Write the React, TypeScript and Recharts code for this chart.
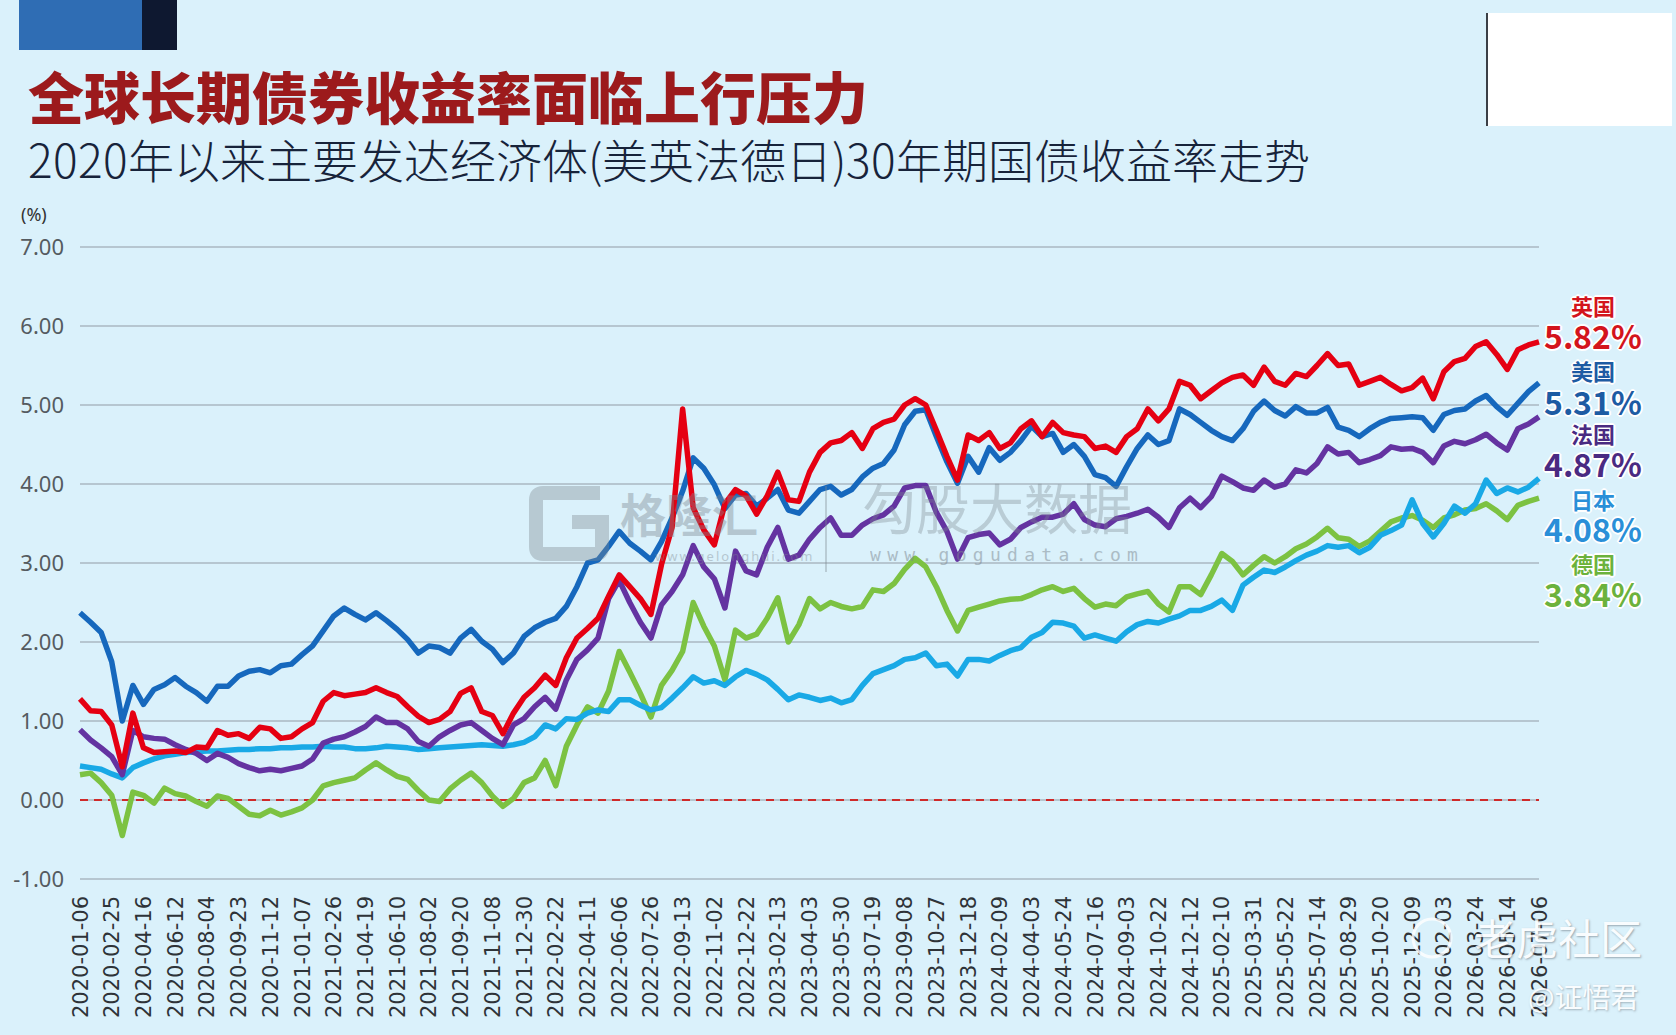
import React from 'react';
import { LineChart, Line, XAxis, YAxis, CartesianGrid, ReferenceLine } from 'recharts';

const tickDates = [
  '2020-01-06', '2020-02-25', '2020-04-16', '2020-06-12', '2020-08-04', '2020-09-23', '2020-11-12',
  '2021-01-07', '2021-02-26', '2021-04-19', '2021-06-10', '2021-08-02', '2021-09-20', '2021-11-08', '2021-12-30',
  '2022-02-22', '2022-04-11', '2022-06-06', '2022-07-26', '2022-09-13', '2022-11-02', '2022-12-22',
  '2023-02-13', '2023-04-03', '2023-05-30', '2023-07-19', '2023-09-08', '2023-10-27', '2023-12-18',
  '2024-02-09', '2024-04-03', '2024-05-24', '2024-07-16', '2024-09-03', '2024-10-22', '2024-12-12',
  '2025-02-10', '2025-03-31', '2025-05-22', '2025-07-14', '2025-08-29', '2025-10-20', '2025-12-09',
  '2026-02-03', '2026-03-24', '2026-05-14', '2026-07-06',
];

// 3 observations per labelled tick interval
const STEP = 3;

const ukYield = [
  1.28, 1.13, 1.12, 0.95, 0.42, 1.10, 0.66, 0.60, 0.61, 0.62, 0.60, 0.67,
  0.66, 0.88, 0.82, 0.84, 0.78, 0.92, 0.90, 0.78, 0.80, 0.90, 0.98, 1.25,
  1.36, 1.32, 1.34, 1.36, 1.42, 1.36, 1.31, 1.18, 1.06, 0.98, 1.02, 1.12,
  1.35, 1.42, 1.12, 1.07, 0.84, 1.10, 1.30, 1.42, 1.58, 1.45, 1.80, 2.05,
  2.17, 2.30, 2.58, 2.85, 2.70, 2.55, 2.35, 2.98, 3.45, 4.95, 3.70, 3.42,
  3.23, 3.75, 3.93, 3.85, 3.62, 3.85, 4.15, 3.80, 3.78, 4.15, 4.40, 4.52,
  4.55, 4.65, 4.45, 4.70, 4.78, 4.82, 5.00, 5.08, 5.00, 4.68, 4.35, 4.05,
  4.62, 4.55, 4.65, 4.45, 4.52, 4.70, 4.80, 4.60, 4.78, 4.65, 4.62, 4.60,
  4.45, 4.48, 4.40, 4.60, 4.70, 4.95, 4.80, 4.95, 5.30, 5.25, 5.08, 5.18,
  5.28, 5.35, 5.38, 5.25, 5.48, 5.30, 5.25, 5.40, 5.36, 5.50, 5.65, 5.50,
  5.52, 5.25, 5.30, 5.35, 5.26, 5.18, 5.22, 5.34, 5.08, 5.42, 5.55, 5.59,
  5.74, 5.80, 5.64, 5.45, 5.70, 5.76, 5.80,
];

const usYield = [
  2.37, 2.25, 2.12, 1.75, 1.00, 1.45, 1.21, 1.40, 1.46, 1.55, 1.44, 1.36,
  1.25, 1.44, 1.44, 1.57, 1.63, 1.65, 1.61, 1.70, 1.72, 1.84, 1.95, 2.14,
  2.33, 2.43, 2.35, 2.28, 2.37, 2.27, 2.16, 2.03, 1.86, 1.95, 1.93, 1.86,
  2.05, 2.16, 2.01, 1.91, 1.74, 1.86, 2.07, 2.18, 2.25, 2.30, 2.45, 2.70,
  3.00, 3.04, 3.21, 3.40, 3.25, 3.15, 3.04, 3.27, 3.57, 3.91, 4.33, 4.20,
  3.99, 3.69, 3.86, 3.88, 3.72, 3.82, 3.93, 3.67, 3.63, 3.78, 3.93, 3.97,
  3.86, 3.93, 4.09, 4.20, 4.26, 4.43, 4.75, 4.92, 4.94, 4.60, 4.28, 4.01,
  4.35, 4.15, 4.46, 4.30, 4.40, 4.55, 4.73, 4.60, 4.64, 4.40, 4.50, 4.35,
  4.12, 4.08, 3.97, 4.22, 4.45, 4.62, 4.50, 4.55, 4.95, 4.88, 4.78, 4.68,
  4.60, 4.55, 4.70, 4.92, 5.05, 4.93, 4.86, 4.98, 4.90, 4.90, 4.97, 4.72,
  4.68, 4.60, 4.70, 4.78, 4.83, 4.84, 4.85, 4.84, 4.68, 4.88, 4.93, 4.95,
  5.05, 5.12, 4.98, 4.87, 5.02, 5.17, 5.28,
];

const frYield = [
  0.89, 0.76, 0.66, 0.55, 0.32, 0.88, 0.80, 0.78, 0.77, 0.70, 0.64, 0.59,
  0.50, 0.59, 0.54, 0.46, 0.41, 0.37, 0.39, 0.37, 0.40, 0.43, 0.52, 0.72,
  0.77, 0.80, 0.86, 0.93, 1.05, 0.98, 0.98, 0.90, 0.74, 0.68, 0.80, 0.88,
  0.95, 0.98, 0.88, 0.78, 0.70, 0.95, 1.03, 1.18, 1.30, 1.15, 1.52, 1.78,
  1.90, 2.05, 2.55, 2.78, 2.50, 2.25, 2.05, 2.47, 2.64, 2.85, 3.22, 2.95,
  2.80, 2.43, 3.15, 2.90, 2.85, 3.20, 3.45, 3.05, 3.10, 3.30, 3.45, 3.57,
  3.35, 3.35, 3.48, 3.56, 3.61, 3.72, 3.95, 3.98, 3.98, 3.64, 3.40, 3.05,
  3.32, 3.36, 3.38, 3.23, 3.30, 3.45, 3.52, 3.58, 3.58, 3.62, 3.75, 3.55,
  3.48, 3.46, 3.56, 3.59, 3.63, 3.68, 3.58, 3.45, 3.70, 3.82, 3.70, 3.84,
  4.10, 4.03, 3.95, 3.92, 4.05, 3.96, 4.00, 4.18, 4.14, 4.26, 4.47, 4.38,
  4.40, 4.27, 4.31, 4.36, 4.47, 4.44, 4.45, 4.40, 4.27, 4.48, 4.54, 4.51,
  4.56, 4.63, 4.52, 4.43, 4.70, 4.76, 4.85,
];

const jpYield = [
  0.43, 0.41, 0.39, 0.33, 0.28, 0.41, 0.47, 0.52, 0.56, 0.58, 0.60, 0.61,
  0.62, 0.62, 0.63, 0.64, 0.64, 0.65, 0.65, 0.66, 0.66, 0.67, 0.67, 0.68,
  0.67, 0.67, 0.65, 0.65, 0.66, 0.68, 0.67, 0.66, 0.64, 0.65, 0.66, 0.67,
  0.68, 0.69, 0.70, 0.69, 0.68, 0.70, 0.73, 0.80, 0.95, 0.90, 1.03, 1.02,
  1.10, 1.14, 1.12, 1.27, 1.27, 1.20, 1.14, 1.17, 1.29, 1.42, 1.56, 1.48,
  1.51, 1.45, 1.56, 1.64, 1.59, 1.52, 1.40, 1.27, 1.33, 1.30, 1.26, 1.29,
  1.23, 1.27, 1.45, 1.60, 1.65, 1.70, 1.78, 1.80, 1.86, 1.70, 1.72, 1.57,
  1.78, 1.78, 1.76, 1.83, 1.89, 1.93, 2.06, 2.12, 2.25, 2.24, 2.20, 2.05,
  2.09, 2.05, 2.01, 2.13, 2.22, 2.26, 2.24, 2.29, 2.33, 2.40, 2.40, 2.45,
  2.53, 2.40, 2.72, 2.82, 2.91, 2.88, 2.95, 3.03, 3.10, 3.15, 3.22, 3.20,
  3.22, 3.13, 3.20, 3.35, 3.41, 3.48, 3.80, 3.50, 3.33, 3.50, 3.72, 3.63,
  3.75, 4.05, 3.88, 3.95, 3.90, 3.96, 4.07,
];

const deYield = [
  0.32, 0.34, 0.22, 0.06, -0.45, 0.10, 0.06, -0.04, 0.15, 0.08, 0.05, -0.02,
  -0.08, 0.05, 0.02, -0.08, -0.18, -0.20, -0.13, -0.19, -0.15, -0.10, 0.00, 0.18,
  0.22, 0.25, 0.28, 0.38, 0.47, 0.38, 0.30, 0.26, 0.12, 0.00, -0.02, 0.14,
  0.25, 0.34, 0.22, 0.05, -0.08, 0.02, 0.22, 0.28, 0.50, 0.18, 0.68, 0.95,
  1.18, 1.10, 1.38, 1.88, 1.62, 1.35, 1.05, 1.45, 1.64, 1.88, 2.50, 2.20,
  1.95, 1.52, 2.15, 2.05, 2.10, 2.30, 2.56, 2.00, 2.22, 2.55, 2.42, 2.50,
  2.45, 2.42, 2.45, 2.66, 2.64, 2.74, 2.92, 3.06, 2.95, 2.70, 2.40, 2.14,
  2.40, 2.44, 2.48, 2.52, 2.54, 2.55, 2.60, 2.66, 2.70, 2.64, 2.68, 2.55,
  2.44, 2.48, 2.46, 2.57, 2.61, 2.64, 2.48, 2.38, 2.70, 2.70, 2.60, 2.85,
  3.12, 3.02, 2.85, 2.97, 3.08, 3.00, 3.08, 3.18, 3.24, 3.33, 3.44, 3.32,
  3.30, 3.21, 3.28, 3.40, 3.52, 3.57, 3.60, 3.54, 3.45, 3.57, 3.61, 3.67,
  3.69, 3.75, 3.66, 3.55, 3.73, 3.78, 3.82,
];

const yTicks = [-1, 0, 1, 2, 3, 4, 5, 6, 7];

const endLabels = [
  { name: '英国', value: '5.82%', color: '#d3141c', nameY: 305, valueY: 335 },
  { name: '美国', value: '5.31%', color: '#1d5ba3', nameY: 370, valueY: 401 },
  { name: '法国', value: '4.87%', color: '#4a2a82', nameY: 433, valueY: 463 },
  { name: '日本', value: '4.08%', color: '#2a8fd8', nameY: 499, valueY: 528 },
  { name: '德国', value: '3.84%', color: '#6cb23c', nameY: 563, valueY: 593 },
];

const data = ukYield.map((_, i) => ({
  idx: i,
  uk: ukYield[i],
  us: usYield[i],
  fr: frYield[i],
  jp: jpYield[i],
  de: deYield[i],
}));

const xTicks = tickDates.map((_, k) => k * STEP);

const XTick = (props: any) => {
  const { x, y, payload } = props;
  const label = tickDates[Math.round(payload.value / STEP)];
  return (
    <g transform={`translate(${x},${y + 9})`}>
      <text
        transform="rotate(-90)"
        textAnchor="end"
        dy="0.36em"
        fontSize={21}
        fill="#2e3338"
        fontFamily="DejaVu Sans, sans-serif"
      >
        {label}
      </text>
    </g>
  );
};

const halo = '0 0 3px #fff, 0 0 2px #fff, 1px 1px 0 #fff, -1px -1px 0 #fff, 1px -1px 0 #fff, -1px 1px 0 #fff, 2px 0 0 #fff, -2px 0 0 #fff, 0 2px 0 #fff, 0 -2px 0 #fff';

const fontCss = `
@font-face {
  font-family: 'EndLabelCJK';
  src: local('Noto Sans CJK SC Bold'), local('NotoSansCJKsc-Bold'), local('Noto Sans CJK SC');
  font-weight: 700;
  ascent-override: 94%;
  descent-override: 6%;
  line-gap-override: 0%;
}
@font-face {
  font-family: 'HeadCJK';
  src: local('Noto Sans CJK SC Black'), local('NotoSansCJKsc-Black'), local('Noto Sans CJK SC Bold'), local('NotoSansCJKsc-Bold');
  font-weight: 900;
  ascent-override: 94%;
  descent-override: 6%;
  line-gap-override: 0%;
}
@font-face {
  font-family: 'HeadCJK';
  src: local('Noto Sans CJK SC Light'), local('NotoSansCJKsc-Light'), local('Noto Sans CJK SC'), local('NotoSansCJKsc-Regular');
  font-weight: 300;
  ascent-override: 94%;
  descent-override: 6%;
  line-gap-override: 0%;
}
`;

const LW = 5.5;

export default function App() {
  return (
    <div
      style={{
        position: 'fixed',
        left: 0,
        top: 0,
        width: 1676,
        height: 1035,
        background: '#daf1fb',
        overflow: 'hidden',
        fontFamily: '"Noto Sans CJK SC", "Noto Sans", sans-serif',
      }}
    >
      <style>{fontCss}</style>
      {/* header blocks */}
      <div style={{ position: 'absolute', left: 19, top: 0, width: 123, height: 50, background: '#2f6db4' }} />
      <div style={{ position: 'absolute', left: 142, top: 0, width: 35, height: 50, background: '#0e1830' }} />
      <div style={{ position: 'absolute', left: 1486, top: 13, width: 184, height: 113, background: '#ffffff', borderLeft: '2px solid #3a3f46' }} />

      <div
        style={{
          position: 'absolute',
          left: 28,
          top: 64,
          fontSize: 56,
          lineHeight: '60px',
          fontWeight: 900,
          color: '#9c1a1c',
          whiteSpace: 'nowrap',
          fontFamily: '"HeadCJK", "Noto Sans CJK SC", sans-serif',
        }}
      >
        全球长期债券收益率面临上行压力
      </div>
      <div
        style={{
          position: 'absolute',
          left: 28,
          top: 133,
          fontSize: 46,
          lineHeight: '50px',
          fontWeight: 300,
          color: '#17233a',
          whiteSpace: 'nowrap',
          fontFamily: '"HeadCJK", "Noto Sans CJK SC", sans-serif',
        }}
      >
        2020年以来主要发达经济体(美英法德日)30年期国债收益率走势
      </div>
      <div
        style={{
          position: 'absolute',
          left: 21,
          top: 202,
          fontSize: 18,
          lineHeight: '24px',
          color: '#333',
          fontFamily: '"Noto Sans", sans-serif',
        }}
      >
        (%)
      </div>

      <div style={{ position: 'absolute', left: 0, top: 0 }}>
        <LineChart
          width={1676}
          height={1035}
          data={data}
          margin={{ top: 247, right: 137, bottom: 16, left: 10 }}
        >
          <CartesianGrid horizontal vertical={false} stroke="#b6c6d0" strokeWidth={2} />
          <XAxis
            dataKey="idx"
            type="number"
            domain={[0, (tickDates.length - 1) * STEP]}
            ticks={xTicks}
            interval={0}
            height={140}
            axisLine={false}
            tickLine={false}
            tick={<XTick />}
          />
          <YAxis
            type="number"
            domain={[-1, 7]}
            ticks={yTicks}
            width={70}
            axisLine={false}
            tickLine={false}
            tickMargin={10}
            tickFormatter={(v: number) => v.toFixed(2)}
            tick={{ fontSize: 22, fill: '#555b60', fontFamily: 'Noto Sans, sans-serif' }}
          />
          <ReferenceLine y={0} stroke="#cf2a2a" strokeWidth={2} strokeDasharray="8 6" />
          <Line type="linear" dataKey="de" stroke="#7cc242" strokeWidth={LW} strokeLinejoin="round" dot={false} isAnimationActive={false} />
          <Line type="linear" dataKey="jp" stroke="#19a9e6" strokeWidth={LW} strokeLinejoin="round" dot={false} isAnimationActive={false} />
          <Line type="linear" dataKey="fr" stroke="#6433a1" strokeWidth={LW} strokeLinejoin="round" dot={false} isAnimationActive={false} />
          <Line type="linear" dataKey="us" stroke="#1668bd" strokeWidth={LW} strokeLinejoin="round" dot={false} isAnimationActive={false} />
          <Line type="linear" dataKey="uk" stroke="#e50012" strokeWidth={LW} strokeLinejoin="round" dot={false} isAnimationActive={false} />
        </LineChart>
      </div>

      {/* watermarks */}
      <div style={{ position: 'absolute', left: 0, top: 0, width: 1676, height: 1035, pointerEvents: 'none' }}>
        <svg width={1676} height={1035} style={{ position: 'absolute', left: 0, top: 0 }}>
          <g opacity={0.38} fill="none" stroke="#7d8891" strokeWidth={14}>
            <path d="M 600 493 L 543 493 Q 536 493 536 500 L 536 547 Q 536 554 543 554 L 595 554 Q 602 554 602 547 L 602 522 L 572 522" />
          </g>
          <line x1={826} y1={486} x2={826} y2={572} stroke="#7d8891" strokeWidth={2} opacity={0.35} />
          <circle cx={1432} cy={938} r={19} fill="none" stroke="#ffffff" strokeWidth={3} opacity={0.8} />
        </svg>
        <div style={{ position: 'absolute', left: 620, top: 484, fontSize: 46, lineHeight: '56px', color: '#7d8891', opacity: 0.4, fontWeight: 700 }}>格隆汇</div>
        <div style={{ position: 'absolute', left: 655, top: 548, fontSize: 13, lineHeight: '16px', color: '#7d8891', opacity: 0.4, letterSpacing: 2, fontFamily: '"Noto Sans", sans-serif' }}>www.gelonghui.com</div>
        <div style={{ position: 'absolute', left: 862, top: 476, fontSize: 54, lineHeight: '62px', color: '#7d8891', opacity: 0.35 }}>勾股大数据</div>
        <div style={{ position: 'absolute', left: 870, top: 543, fontSize: 18, lineHeight: '24px', color: '#7d8891', opacity: 0.5, letterSpacing: 6.3, fontFamily: '"DejaVu Sans Mono", monospace' }}>www.gogudata.com</div>
        <div style={{ position: 'absolute', left: 1474, top: 912, fontSize: 42, lineHeight: '50px', color: '#ffffff', opacity: 0.85, textShadow: '1px 1px 2px rgba(90,100,110,0.6)' }}>老虎社区</div>
        <div style={{ position: 'absolute', left: 1528, top: 978, fontSize: 28, lineHeight: '36px', color: '#ffffff', opacity: 0.85, textShadow: '1px 1px 2px rgba(90,100,110,0.5)' }}>@证悟君</div>
      </div>

      {/* end-of-line labels */}
      {endLabels.map((l) => (
        <React.Fragment key={l.name}>
          <div
            style={{
              position: 'absolute',
              left: 1523,
              width: 140,
              top: l.nameY - 11,
              fontSize: 22,
              lineHeight: '22px',
              fontWeight: 700,
              textAlign: 'center',
              color: l.color,
              textShadow: halo,
              fontFamily: '"EndLabelCJK", "Noto Sans CJK SC", sans-serif',
            }}
          >
            {l.name}
          </div>
          <div
            style={{
              position: 'absolute',
              left: 1523,
              width: 140,
              top: l.valueY - 15,
              fontSize: 32,
              lineHeight: '30px',
              fontWeight: 700,
              textAlign: 'center',
              color: l.color,
              textShadow: halo,
              fontFamily: '"EndLabelCJK", "Noto Sans CJK SC", sans-serif',
            }}
          >
            {l.value}
          </div>
        </React.Fragment>
      ))}
    </div>
  );
}
